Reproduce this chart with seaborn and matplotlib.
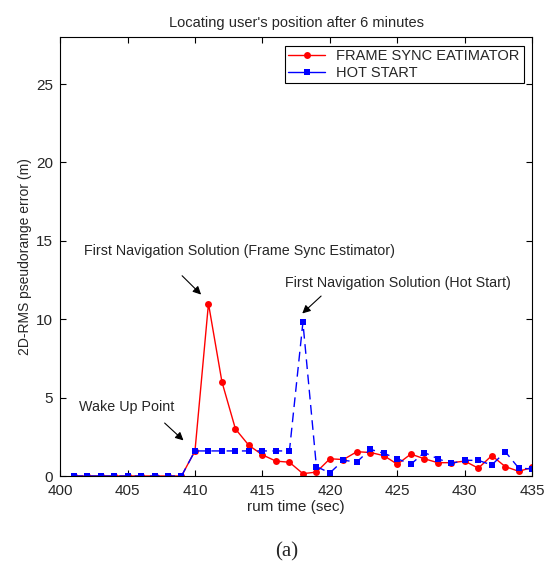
import pandas as pd
import matplotlib
matplotlib.use("Agg")
import matplotlib.pyplot as plt
import seaborn as sns

# run time (sec)
run_time = list(range(401, 436))

# 2D-RMS pseudorange error (m)
frame_sync = [0, 0, 0, 0, 0, 0, 0, 0, 0,
              1.6, 11.0, 6.0, 3.0, 1.95, 1.35, 0.95, 0.88, 0.15, 0.25,
              1.1, 1.05, 1.55, 1.5, 1.3, 0.75, 1.4, 1.1, 0.85, 0.85,
              0.95, 0.5, 1.3, 0.6, 0.3, 0.55]
hot_start = [0, 0, 0, 0, 0, 0, 0, 0, 0,
             1.6, 1.6, 1.6, 1.6, 1.6, 1.6, 1.6, 1.6, 9.8, 0.6,
             0.2, 1.0, 0.9, 1.7, 1.45, 1.1, 0.75, 1.5, 1.1, 0.8,
             1.0, 1.0, 0.7, 1.55, 0.5, 0.45]

series_names = ["FRAME SYNC EATIMATOR", "HOT START"]

sns.set_style("ticks")
plt.rcParams['font.family'] = ['Liberation Sans', 'DejaVu Sans']
plt.rcParams['xtick.direction'] = 'in'
plt.rcParams['ytick.direction'] = 'in'
plt.rcParams['xtick.top'] = True
plt.rcParams['ytick.right'] = True

df_fs = pd.DataFrame({"t": run_time, "err": frame_sync})
df_hs = pd.DataFrame({"t": run_time, "err": hot_start})

fig = plt.figure(figsize=(5.51, 5.62), dpi=100)
ax = fig.add_axes([0.109, 0.153, 0.857, 0.781])

sns.lineplot(data=df_fs, x="t", y="err", ax=ax, color="red", marker="o",
             markersize=5, markeredgewidth=0, linewidth=1.0,
             label=series_names[0])
sns.lineplot(data=df_hs, x="t", y="err", ax=ax, color="blue", marker="s",
             markersize=5, markeredgewidth=0, linewidth=1.0,
             dashes=False, label=series_names[1])
ax.lines[1].set_linestyle((0, (7, 4)))

ax.set_xlim(400, 435)
ax.set_ylim(0, 28)
ax.set_xticks(range(400, 436, 5))
ax.set_yticks(range(0, 26, 5))
ax.tick_params(labelsize=11, length=4, width=0.8, color="black")
ax.tick_params(axis="x", pad=6)
ax.tick_params(axis="y", pad=5)
for s in ax.spines.values():
    s.set_linewidth(0.8)
    s.set_color("black")

ax.set_title("Locating user's position after 6 minutes", fontsize=10.5, pad=7)
ax.set_xlabel("rum time (sec)", fontsize=11, labelpad=1)
ax.set_ylabel("2D-RMS pseudorange error (m)", fontsize=10, labelpad=3)

leg = ax.legend(loc="upper right", fontsize=10.5, fancybox=False,
                edgecolor="black", framealpha=1, handlelength=2.5,
                borderaxespad=0.6, borderpad=0.25, labelspacing=0.15)
leg.get_frame().set_linewidth(0.8)
leg.get_lines()[1].set_linestyle("-")

arrow = dict(arrowstyle="-|>", color="black", lw=0.8, mutation_scale=12)
ax.annotate("First Navigation Solution (Frame Sync Estimator)",
            xy=(410.6, 11.45), xytext=(401.8, 14.37), fontsize=10.3,
            va="center", ha="left")
ax.annotate("", xy=(410.6, 11.45), xytext=(408.9, 12.9), arrowprops=arrow)
ax.annotate("First Navigation Solution (Hot Start)",
            xy=(417.8, 10.25), xytext=(416.7, 12.3), fontsize=10.3,
            va="center", ha="left")
ax.annotate("", xy=(417.8, 10.25), xytext=(419.5, 11.6), arrowprops=arrow)
ax.annotate("Wake Up Point", xy=(409.3, 2.15), xytext=(401.4, 4.43),
            fontsize=10.3, va="center", ha="left")
ax.annotate("", xy=(409.3, 2.15), xytext=(407.6, 3.5), arrowprops=arrow)

fig.text(0.52, 0.018, "(a)", fontsize=15, family="Liberation Serif",
         ha="center", va="center")

fig.savefig("out.png", dpi=100)
